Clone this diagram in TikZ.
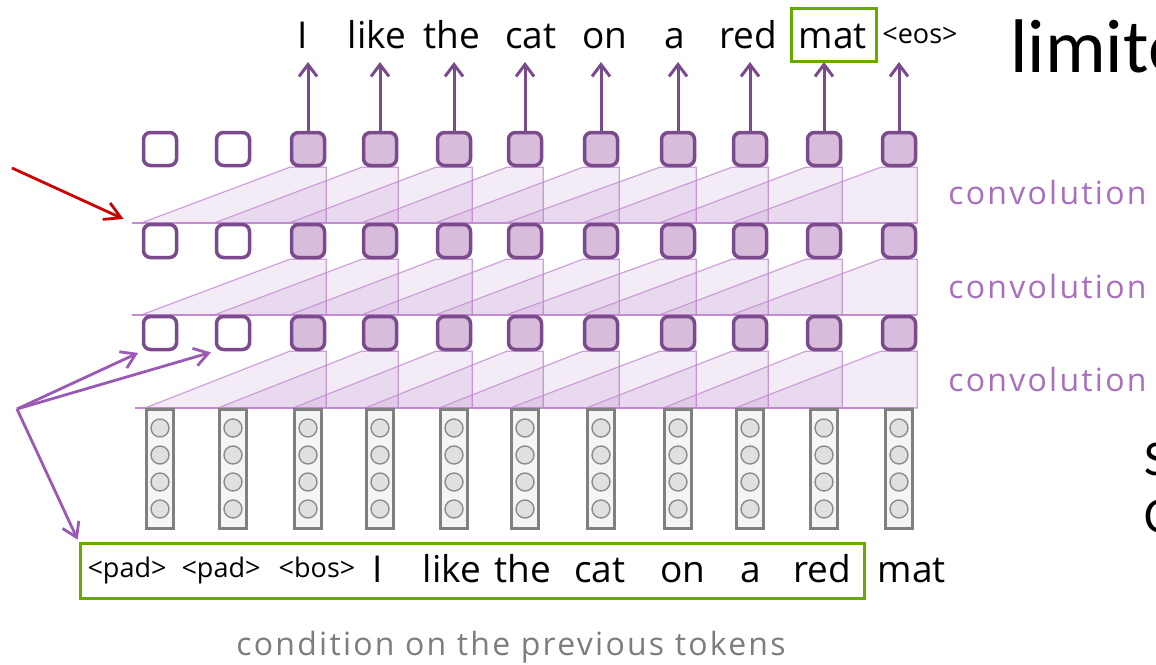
\documentclass[tikz,border=0pt]{standalone}
\usepackage{fontspec}
\setmainfont{Open Sans}
\newfontfamily\labelfont[LetterSpace=7]{Open Sans}
\newfontfamily\titlefont{Carlito}
\usetikzlibrary{positioning,arrows.meta,calc,backgrounds}

\definecolor{unitline}{RGB}{122,74,140}
\definecolor{unitfill}{RGB}{216,188,220}
\definecolor{rfpurple}{RGB}{160,90,180}
\definecolor{rfline}{RGB}{196,140,212}
\definecolor{hintpurple}{RGB}{155,89,182}
\definecolor{labelpurple}{RGB}{170,110,190}
\definecolor{ctxgreen}{RGB}{102,170,0}
\definecolor{embline}{RGB}{128,128,128}
\definecolor{embfill}{RGB}{245,245,245}
\definecolor{dotfill}{RGB}{224,224,224}
\definecolor{dotline}{RGB}{140,140,140}
\definecolor{hintred}{RGB}{204,0,0}
\definecolor{notegray}{RGB}{125,125,125}

\begin{document}
\begin{tikzpicture}[
    x=0.5pt, y=-0.5pt,
    unit/.style={draw=unitline, line width=1.75pt, rounded corners=3.5pt, fill=unitfill, minimum width=16.5pt, minimum height=16.5pt, inner sep=0pt},
    padunit/.style={unit, fill=white},
    emb/.style={draw=embline, line width=1.5pt, fill=embfill, minimum width=13.5pt, minimum height=59.5pt, inner sep=0pt},
    dot/.style={circle, draw=dotline, line width=0.7pt, fill=dotfill, minimum size=9pt, inner sep=0pt},
    rf/.style={fill=rfpurple, fill opacity=0.12, draw=rfline, draw opacity=0.8, line width=0.6pt},
    base/.style={draw=rfline, line width=0.8pt},
    word/.style={font=\fontsize{18.5}{20}\selectfont, anchor=base, inner sep=0pt},
    tag/.style={font=\fontsize{13.5}{15}\selectfont, anchor=base, inner sep=0pt},
    conv/.style={font=\labelfont\fontsize{16}{19}\selectfont, text=labelpurple, anchor=base west, inner sep=0pt},
    note/.style={font=\labelfont\fontsize{16}{19}\selectfont, text=notegray, anchor=base west, inner sep=0pt},
    title/.style={font=\titlefont\fontsize{38}{44}\selectfont, anchor=base west, inner sep=0pt},
    side/.style={font=\titlefont\fontsize{25}{28}\selectfont, anchor=base west, inner sep=0pt},
    hl/.style={draw=ctxgreen, line width=1.5pt, inner sep=0pt},
    arrow/.style={-{Straight Barb[length=6pt,width=9pt]}, line width=1.5pt, draw=unitline},
    hint/.style={-{Straight Barb[length=7pt,width=9pt]}, line width=1.4pt, draw=hintpurple},
    hintred/.style={-{Straight Barb[length=8pt,width=9pt]}, line width=1.4pt, draw=hintred}
]
\useasboundingbox (0,0) rectangle (1156,664);

% one column per token: three conv layers and the embedding
\foreach \x [count=\i from 0] in {160,233,308,380,454,525,601,678,750,824,899} {
  \ifnum\i<2 \def\unitkind{padunit}\else\def\unitkind{unit}\fi
  \node[\unitkind] (top\i) at (\x,149) {};
  \node[\unitkind] (mid\i) at (\x,241) {};
  \node[\unitkind] (low\i) at (\x,333) {};
  \node[emb] (emb\i) at (\x,469) {};
  \foreach \j in {0,...,3}
    \node[dot] (dot\i-\j) at (\x,{428+27*\j}) {};
}

% receptive fields (kernel of width 3)
\begin{scope}[on background layer]
\foreach \up/\low in {top/mid,mid/low,low/emb} {
  \coordinate (\low-edge) at ($(\low0.north west)+(-10,0)$);
  \draw[base] (\low-edge) -- (\low10.north east);
  \foreach \i in {2,...,10} {
    \pgfmathtruncatemacro\k{\i-2}
    \path[rf] (\low\k.north west) -- (\up\i.south west) -- (\up\i.south east) -- (\up\i.south east |- \low\i.north) -- cycle;
  }
}
\end{scope}

% predicted tokens
\coordinate (tipline) at (0,62);
\foreach \i in {2,...,10}
  \draw[arrow] (top\i.north) -- (top\i.north |- tipline);
\foreach \x/\w [count=\i from 2] in {303/I,377/like,452/the,531/cat,605/on,675/a,748/red,833/mat}
  \node[word] (out\i) at (\x,48) {\w};
\node[tag] (out10) at (920,43) {<eos>};
\node[hl, minimum width=42.5pt, minimum height=26.5pt] (matbox) at (834,35) {};

% input tokens
\foreach \x/\w [count=\i from 0] in {127/<pad>,221/<pad>,317/<bos>}
  \node[tag] (in\i) at (\x,577) {\w};
\foreach \x/\w [count=\i from 3] in {378/I,452/like,523/the,600/cat,683/on,751/a,822/red,912/mat}
  \node[word] (in\i) at (\x,582) {\w};
\node[hl, minimum width=392pt, minimum height=27.5pt] (ctx) at (472,570.5) {};

% labels
\foreach \y [count=\n] in {204,298,391}
  \node[conv] (conv\n) at (948,\y) {convolution};
\node[note] (cond) at (236,655) {condition on the previous tokens};
\node[title] (limit) at (1010,72) {limite};
\node[side] (side1) at (1144,475) {S};
\node[side] (side2) at (1144,532) {C};

% pointers
\coordinate (redtail) at (12,168);
\draw[hintred, shorten >=4.5pt] (redtail) -- (mid-edge);
\coordinate (fork) at (17,409);
\draw[hint, shorten >=2pt] (fork) -- (low0.south west);
\draw[hint, shorten >=2pt] (fork) -- (low1.south west);
\draw[hint, shorten >=1pt] (fork) -- (ctx.north west);

\end{tikzpicture}
\end{document}
